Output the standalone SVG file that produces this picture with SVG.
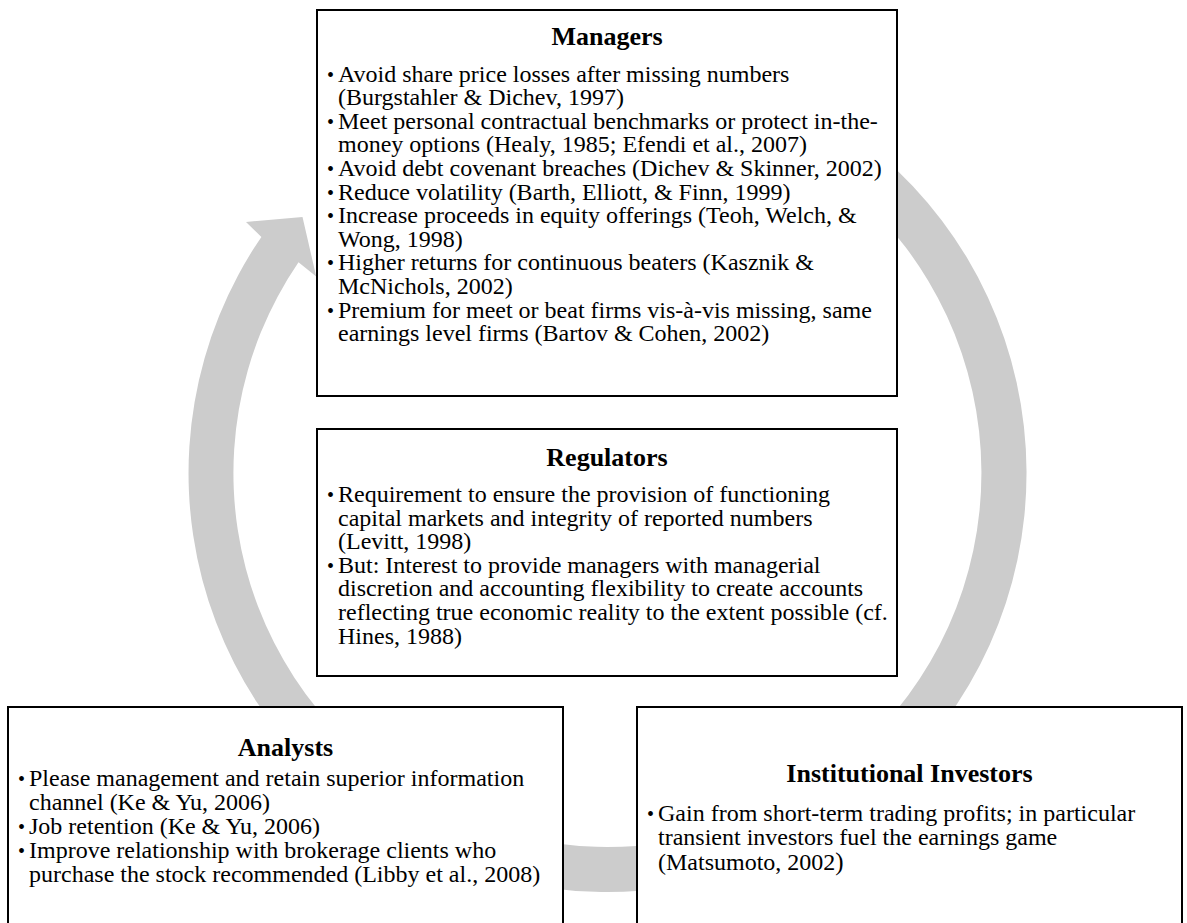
<svg xmlns="http://www.w3.org/2000/svg" width="1187" height="923" viewBox="0 0 1187 923">
<style>
.box{fill:#fff;stroke:#000;stroke-width:2}
.t{font-family:"Liberation Serif","Times New Roman",serif;font-size:24px;fill:#000}
.b{font-family:"Liberation Serif","Times New Roman",serif;font-size:20px;fill:#000}
.h{font-family:"Liberation Serif","Times New Roman",serif;font-size:26px;font-weight:bold;fill:#000;text-anchor:middle}
.arrow{fill:#cccccc;stroke:none}
</style>
<g id="connectors">
<path class="arrow" d="M 680.3 60.4 A 419 419 0 1 1 261.4 236.9 L 246 222 L 302.5 217 L 316.2 276.5 L 298.5 262.2 A 374 374 0 1 0 672.4 104.7 Z"/>
</g>
<g id="managers">
<rect class="box" x="317" y="10" width="580" height="386"/>
<text class="h" x="607" y="45">Managers</text>
<text class="b" x="327" y="81.5">•</text><text class="t" x="338" y="81.5">Avoid share price losses after missing numbers</text>
<text class="t" x="338" y="105.1">(Burgstahler &amp; Dichev, 1997)</text>
<text class="b" x="327" y="128.7">•</text><text class="t" x="338" y="128.7">Meet personal contractual benchmarks or protect in-the-</text>
<text class="t" x="338" y="152.3">money options (Healy, 1985; Efendi et al., 2007)</text>
<text class="b" x="327" y="175.9">•</text><text class="t" x="338" y="175.9">Avoid debt covenant breaches (Dichev &amp; Skinner, 2002)</text>
<text class="b" x="327" y="199.5">•</text><text class="t" x="338" y="199.5">Reduce volatility (Barth, Elliott, &amp; Finn, 1999)</text>
<text class="b" x="327" y="223.1">•</text><text class="t" x="338" y="223.1">Increase proceeds in equity offerings (Teoh, Welch, &amp;</text>
<text class="t" x="338" y="246.7">Wong, 1998)</text>
<text class="b" x="327" y="270.3">•</text><text class="t" x="338" y="270.3">Higher returns for continuous beaters (Kasznik &amp;</text>
<text class="t" x="338" y="293.9">McNichols, 2002)</text>
<text class="b" x="327" y="317.5">•</text><text class="t" x="338" y="317.5">Premium for meet or beat firms vis-à-vis missing, same</text>
<text class="t" x="338" y="341.1">earnings level firms (Bartov &amp; Cohen, 2002)</text>
</g>
<g id="regulators">
<rect class="box" x="317" y="429" width="580" height="247"/>
<text class="h" x="607" y="466">Regulators</text>
<text class="b" x="327" y="502">•</text><text class="t" x="338" y="502">Requirement to ensure the provision of functioning</text>
<text class="t" x="338" y="525.6">capital markets and integrity of reported numbers</text>
<text class="t" x="338" y="549.2">(Levitt, 1998)</text>
<text class="b" x="327" y="572.8">•</text><text class="t" x="338" y="572.8">But: Interest to provide managers with managerial</text>
<text class="t" x="338" y="596.4">discretion and accounting flexibility to create accounts</text>
<text class="t" x="338" y="620">reflecting true economic reality to the extent possible (cf.</text>
<text class="t" x="338" y="643.6">Hines, 1988)</text>
</g>
<g id="analysts">
<rect class="box" x="8" y="707" width="555" height="230"/>
<text class="h" x="285.5" y="756">Analysts</text>
<text class="b" x="18" y="786">•</text><text class="t" x="29" y="786">Please management and retain superior information</text>
<text class="t" x="29" y="810">channel (Ke &amp; Yu, 2006)</text>
<text class="b" x="18" y="834">•</text><text class="t" x="29" y="834">Job retention (Ke &amp; Yu, 2006)</text>
<text class="b" x="18" y="858">•</text><text class="t" x="29" y="858">Improve relationship with brokerage clients who</text>
<text class="t" x="29" y="882">purchase the stock recommended (Libby et al., 2008)</text>
</g>
<g id="institutional-investors">
<rect class="box" x="637" y="707" width="545" height="230"/>
<text class="h" x="909.5" y="782">Institutional Investors</text>
<text class="b" x="647" y="821">•</text><text class="t" x="658" y="821">Gain from short-term trading profits; in particular</text>
<text class="t" x="658" y="845">transient investors fuel the earnings game</text>
<text class="t" x="658" y="870">(Matsumoto, 2002<tspan font-size="25">)</tspan></text>
</g>
</svg>
